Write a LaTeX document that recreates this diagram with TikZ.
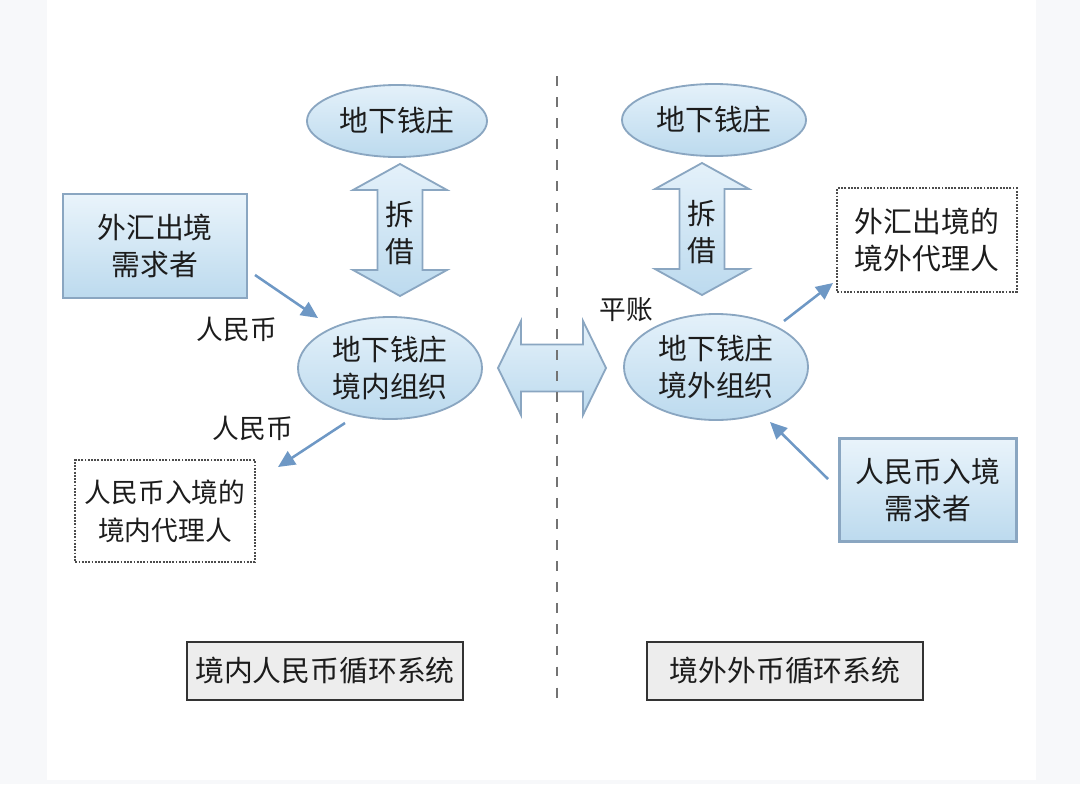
\documentclass[tikz,border=0pt]{standalone}
\usepackage{fontspec}
\newfontfamily\cjk{Noto Sans CJK SC}
\usepackage{xcolor}
\usetikzlibrary{arrows.meta,shapes.geometric}

\definecolor{pagegray}{HTML}{F7F8FA}
\definecolor{blueedge}{HTML}{8AA6C1}
\definecolor{bluetop}{HTML}{E4F1FA}
\definecolor{bluebot}{HTML}{BCDAEE}
\definecolor{flowblue}{HTML}{6E98C5}
\definecolor{sysgray}{HTML}{EDEDED}
\definecolor{inkgray}{HTML}{1C1C1C}

\tikzset{
  every node/.style={font=\cjk\fontsize{20.5}{26}\selectfont, text=inkgray, inner sep=0pt, align=center},
  small/.style={font=\cjk\fontsize{19}{27}\selectfont},
  bank/.style={ellipse, draw=blueedge, line width=1.3pt, top color=bluetop, bottom color=bluebot},
  client/.style={rectangle, draw=blueedge, line width=1.6pt, top color=bluetop!80!white, bottom color=bluebot},
  agent/.style={rectangle, draw=black!70, line width=1.3pt, densely dotted, fill=white},
  system/.style={rectangle, draw=black!80, line width=1.3pt, fill=sysgray},
  blockarrow/.style={draw=blueedge, line width=1.3pt, top color=bluetop, bottom color=bluebot, line join=miter},
  flow/.style={draw=flowblue, line width=1.8pt, -{Triangle[length=12pt,width=11pt]}},
  divider/.style={draw=black!55, line width=0.9pt, dash pattern=on 7pt off 8pt},
}

\begin{document}
\begin{tikzpicture}[x=0.025cm,y=-0.025cm]
    \useasboundingbox (0,0) rectangle (1080,784);
    \fill[pagegray] (0,0) rectangle (1080,784);
    \fill[white] (47,0) rectangle (1036,780);

    % block arrows
    \foreach \x/\y in {400/164, 702/163}
      \draw[blockarrow] (\x,\y) -- ++(47,26) -- ++(-24.5,0) -- ++(0,80) -- ++(24.5,0) -- ++(-47,26)
        -- ++(-47,-26) -- ++(24.5,0) -- ++(0,-80) -- ++(-24.5,0) -- cycle;
    \draw[blockarrow] (498,368) -- ++(23,-47) -- ++(0,23.5) -- ++(62,0) -- ++(0,-23.5) -- ++(23,47)
        -- ++(-23,47) -- ++(0,-23.5) -- ++(-62,0) -- ++(0,23.5) -- cycle;

    \draw[divider] (557,76) -- (557,703);

    % banks
    \node[bank, minimum width=4.5cm, minimum height=1.8cm] (topL) at (397,121) {地下钱庄};
    \node[bank, minimum width=4.6cm, minimum height=1.8cm] (topR) at (714,120) {地下钱庄};
    \node[bank, minimum width=4.6cm, minimum height=2.55cm] (orgL) at (390,368) {地下钱庄\\境内组织};
    \node[bank, minimum width=4.6cm, minimum height=2.65cm] (orgR) at (716,367) {地下钱庄\\境外组织};

    % clients and agents
    \node[client, minimum width=4.6cm, minimum height=2.6cm] (needL) at (155,246) {外汇出境\\需求者};
    \node[client, minimum width=4.42cm, minimum height=2.58cm] (needR) at (928,490) {人民币入境\\需求者};
    \node[agent, minimum width=4.48cm, minimum height=2.58cm] (agentR) at (927,240) {外汇出境的\\境外代理人};
    \node[agent, small, minimum width=4.48cm, minimum height=2.55cm] (agentL) at (165,511) {人民币入境的\\境内代理人};

    \node[system, minimum width=6.88cm, minimum height=1.43cm] (sysL) at (325,671) {境内人民币循环系统};
    \node[system, minimum width=6.9cm, minimum height=1.43cm] (sysR) at (785,671) {境外外币循环系统};

    % labels
    \node (chaiL) at (400,233) {拆\\借};
    \node (chaiR) at (702,232) {拆\\借};
    \node[small] (rmbIn) at (237,329) {人民币};
    \node[small] (rmbOut) at (253,428) {人民币};
    \node[small] (settle) at (626,310) {平账};

    % flows
    \coordinate (needLout) at (255,275);
    \coordinate (orgLin) at (318,318);
    \coordinate (orgLout) at (345,423);
    \coordinate (agentLin) at (278,467);
    \coordinate (orgRout) at (784,321);
    \coordinate (agentRin) at (833,283);
    \coordinate (needRout) at (828,479);
    \coordinate (orgRin) at (770,422);
    \draw[flow] (needLout) -- (orgLin);
    \draw[flow] (orgLout) -- (agentLin);
    \draw[flow] (orgRout) -- (agentRin);
    \draw[flow] (needRout) -- (orgRin);
\end{tikzpicture}
\end{document}
